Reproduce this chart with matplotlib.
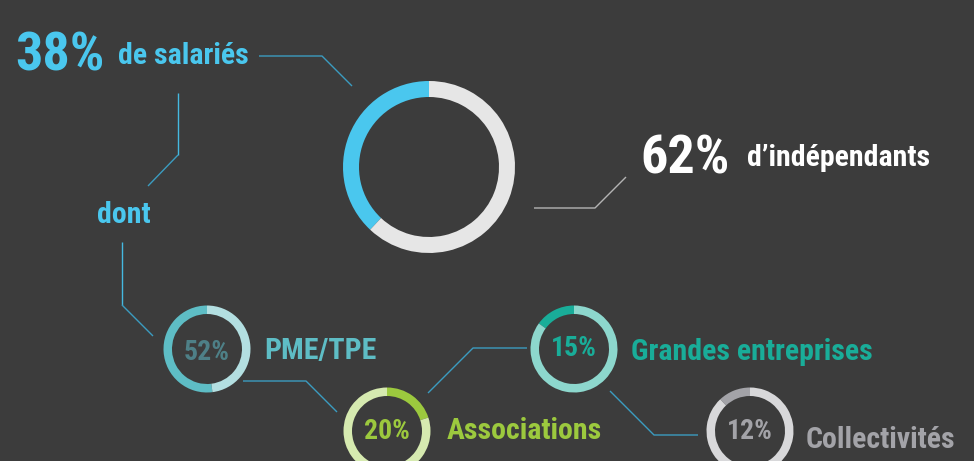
import matplotlib
matplotlib.use("Agg")
import matplotlib.pyplot as plt
from matplotlib import font_manager

W, H = 974, 461

# data
main_labels = ["de salariés", "d’indépendants"]
main_values = [38, 62]
sub_labels = ["PME/TPE", "Associations", "Grandes entreprises", "Collectivités"]
sub_values = [52, 20, 15, 12]

BG = "#3c3c3c"
BLUE = "#4ac7ee"
RING_GREY = "#e6e6e6"
LINE_BLUE = "#3b9cc0"
LINE_BLUE_LIGHT = "#45b9e0"
LINE_GREY = "#b4b4b4"

# dark / light ring colours, percentage text colour
sub_dark = ["#5ebdc5", "#9cc93e", "#19ad99", "#a3a3a8"]
sub_light = ["#b3dfe1", "#d6eab0", "#8dd7cd", "#d8d8da"]
sub_pct_color = ["#4e8087", "#9cc93e", "#19ad99", "#a3a3a8"]
sub_ccw = [True, False, True, True]

# layout in image pixels (y downwards)
sub_centers = [(207, 349), (387, 431), (574, 349), (750, 431)]
sub_pct_base = [360, 439, 356, 439]
sub_label_xy = [(264, 359), (447, 439), (631, 360), (806, 448)]

LABEL_SIZE = 21.5
BIG_SIZE = 39
PCT_SIZE = 20


def pick_font():
    names = {f.name for f in font_manager.fontManager.ttflist}
    for n in ["Liberation Sans Narrow", "DejaVu Sans Condensed", "Roboto Condensed", "Liberation Sans"]:
        if n in names:
            return n
    return "DejaVu Sans"


FONT = pick_font()
plt.rcParams["font.family"] = [FONT, "DejaVu Sans"]

fig = plt.figure(figsize=(W / 100, H / 100), dpi=100, facecolor=BG)
ax = fig.add_axes([0, 0, 1, 1])


def Y(y):
    return H - y


def txt(x, y, s, size, color, ha="left"):
    ax.text(x, Y(y), s, fontsize=size, color=color, ha=ha, va="baseline", fontweight="bold")


def line(pts, color):
    ax.plot([p[0] for p in pts], [Y(p[1]) for p in pts], color=color, lw=1.0, solid_capstyle="butt")


# main donut
ax.pie(main_values, colors=[BLUE, RING_GREY], startangle=90, counterclock=True,
       radius=86, center=(429, Y(167)), wedgeprops=dict(width=16, linewidth=0), frame=True)

# small donuts
for i, v in enumerate(sub_values):
    cx, cy = sub_centers[i]
    ax.pie([v, 100 - v], colors=[sub_dark[i], sub_light[i]], startangle=90, counterclock=sub_ccw[i],
           radius=43.5, center=(cx, Y(cy)), wedgeprops=dict(width=8.5, linewidth=0), frame=True)
    txt(cx, sub_pct_base[i], f"{v}%", PCT_SIZE, sub_pct_color[i], ha="center")
    lx, ly = sub_label_xy[i]
    txt(lx, ly, sub_labels[i], LABEL_SIZE, sub_dark[i])

# headline texts
txt(105, 71, f"{main_values[0]}%", BIG_SIZE, BLUE, ha="right")
txt(118, 64, main_labels[0], LABEL_SIZE, BLUE)
txt(97, 223, "dont", LABEL_SIZE, BLUE)
txt(730, 174, f"{main_values[1]}%", BIG_SIZE, "white", ha="right")
txt(747, 166, main_labels[1], LABEL_SIZE, "white")

# connectors
line([(259, 56), (322, 56), (352, 86)], LINE_BLUE)
line([(178, 93), (178, 155)], LINE_BLUE_LIGHT)
line([(178, 155), (148, 186)], LINE_BLUE)
line([(122, 242), (122, 305)], LINE_BLUE_LIGHT)
line([(122, 305), (153, 336)], LINE_BLUE)
line([(534, 208), (595, 208), (626, 177)], LINE_GREY)
line([(243, 381), (306, 381), (337, 412)], LINE_BLUE)
line([(428, 393), (473, 348), (527, 348)], LINE_BLUE)
line([(610, 391), (654, 435), (698, 435)], LINE_BLUE)

ax.set_xlim(0, W)
ax.set_ylim(0, H)
ax.set_aspect("equal")
ax.axis("off")

fig.savefig("out.png", dpi=100, facecolor=BG)
